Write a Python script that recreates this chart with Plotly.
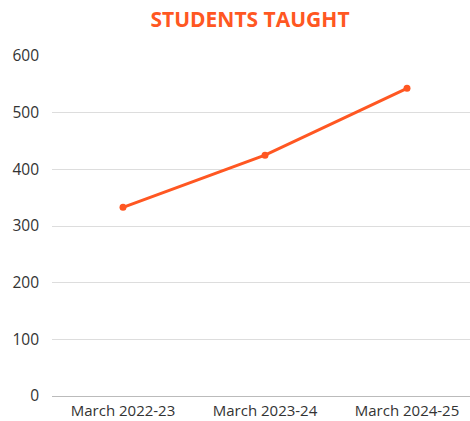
import plotly.graph_objects as go

categories = ["March 2022-23", "March 2023-24", "March 2024-25"]
students = [333, 425, 543]
y_ticks = [0, 100, 200, 300, 400, 500, 600]

ORANGE = "#FF5722"
FONT = "'Open Sans', Lato, sans-serif"

fig = go.Figure(
    go.Scatter(
        x=categories,
        y=students,
        mode="lines+markers",
        line=dict(color=ORANGE, width=3),
        marker=dict(color=ORANGE, size=7),
        hoverinfo="x+y",
        cliponaxis=False,
    )
)

fig.update_layout(
    width=470,
    height=421,
    margin=dict(l=52, r=0, t=56, b=25, autoexpand=False),
    paper_bgcolor="white",
    plot_bgcolor="white",
    showlegend=False,
    font=dict(family=FONT, size=15, color="#333333"),
    title=dict(
        text="<b>STUDENTS TAUGHT</b>",
        x=250 / 470,
        xanchor="center",
        y=1 - 20 / 421,
        yanchor="middle",
        font=dict(family=FONT, size=21, color=ORANGE),
    ),
)

fig.update_xaxes(
    type="category",
    range=[-0.5, 2.5 - 8 / 142],
    automargin=False,
    showgrid=False,
    showline=True,
    linecolor="#BBBBBB",
    linewidth=1,
    ticks="",
    ticklabelstandoff=1,
    tickfont=dict(family=FONT, size=15, color="#333333"),
)

fig.update_yaxes(
    range=[0, 600],
    automargin=False,
    tickvals=y_ticks,
    showgrid=True,
    gridcolor="#DDDDDD",
    gridwidth=1,
    zeroline=False,
    showline=False,
    ticks="",
    ticklabelstandoff=12,
    tickfont=dict(family=FONT, size=15.5, color="#333333"),
)

fig.write_html(
    "out.html",
    config={"displayModeBar": False},
    post_script="document.body.style.margin='0';document.body.style.overflow='hidden';",
)
